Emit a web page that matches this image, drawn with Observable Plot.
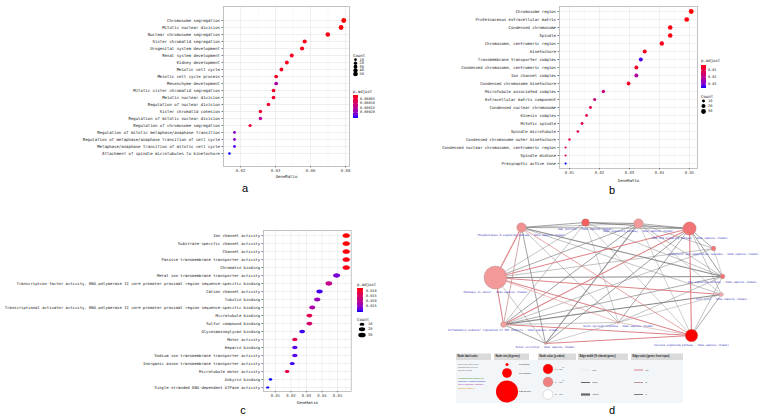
<!DOCTYPE html>
<html><head><meta charset="utf-8">
<script src="https://cdn.jsdelivr.net/npm/d3@7"></script>
<script src="https://cdn.jsdelivr.net/npm/@observablehq/plot@0.6"></script>
<style>
body{margin:0;background:#fff;width:763px;height:416px;overflow:hidden;position:relative}
.panel{position:absolute}
.panel svg{overflow:visible}
</style></head><body>
<div id="pa" class="panel" style="left:0;top:0"></div>
<div id="pb" class="panel" style="left:380px;top:0"></div>
<div id="pc" class="panel" style="left:0;top:220px"></div>
<div id="pd" class="panel" style="left:440px;top:210px"></div>
<svg id="overlay" width="763" height="416" style="position:absolute;left:0;top:0;pointer-events:none"></svg>
<script>
// ---------- Panel a : GO biological process ----------
const aTerms = ["Chromosome segregation","Mitotic nuclear division","Nuclear chromosome segregation","Sister chromatid segregation","Urogenital system development","Renal system development","Kidney development","Meiotic cell cycle","Meiotic cell cycle process","Mesenchyme development","Mitotic sister chromatid segregation","Meiotic nuclear division","Regulation of nuclear division","Sister chromatid cohesion","Regulation of mitotic nuclear division","Regulation of chromosome segregation","Regulation of mitotic metaphase/anaphase transition","Regulation of metaphase/anaphase transition of cell cycle","Metaphase/anaphase transition of mitotic cell cycle","Attachment of spindle microtubules to kinetochore"];
const aRatio = [0.0790,0.0775,0.0699,0.0567,0.0552,0.0493,0.0465,0.0434,0.0404,0.0404,0.0389,0.0389,0.0360,0.0314,0.0314,0.0255,0.0166,0.0166,0.0166,0.0137];
const aCount = [52,51,46,37,36,32,31,29,27,27,26,26,24,21,21,17,11,11,11,9];
const aPadj = [0.00001,0.000012,0.00002,0.00002,0.000025,0.00003,0.00003,0.00003,0.000035,0.00017,0.000035,0.00004,0.00004,0.00004,0.00015,0.000045,0.00021,0.00021,0.00024,0.00026];
const aTicks = [0.02,0.04,0.06,0.08];
const aMinor = [0.01,0.03,0.05,0.07];
const aCountLegend = [10,20,30,40,50];
const aPLegend = [0.00005,0.00010,0.00015,0.00020];

// ---------- Panel b : GO cellular component ----------
const bTerms = ["Chromosome region","Proteinaceous extracellular matrix","Condensed chromosome","Spindle","Chromosome, centromeric region","Kinetochore","Transmembrane transporter complex","Condensed chromosome, centromeric region","Ion channel complex","Condensed chromosome kinetochore","Microtubule associated complex","Extracellular matrix component","Condensed nuclear chromosome","Kinesin complex","Mitotic spindle","Spindle microtubule","Condensed chromosome outer kinetochore","Condensed nuclear chromosome, centromeric region","Spindle midzone","Presynaptic active zone"];
const bRatio = [0.0506,0.0491,0.0436,0.0436,0.0408,0.0351,0.0338,0.0323,0.0323,0.0297,0.0213,0.0184,0.0170,0.0157,0.0142,0.0128,0.0100,0.0087,0.0087,0.0087];
const bCount = [30,29,26,26,24,21,20,19,19,18,13,11,10,9,9,8,6,5,5,5];
const bPadj = [0.002,0.0025,0.003,0.003,0.0035,0.004,0.034,0.0045,0.022,0.005,0.016,0.017,0.010,0.009,0.011,0.011,0.009,0.010,0.012,0.036];
const bTicks = [0.01,0.02,0.03,0.04,0.05];
const bMinor = [0.015,0.025,0.035,0.045];
const bCountLegend = [10,20,30];
const bPLegend = [0.01,0.02,0.03];

// ---------- Panel c : GO molecular function ----------
const cTerms = ["Ion channel activity","Substrate-specific channel activity","Channel activity","Passive transmembrane transporter activity","Chromatin binding","Metal ion transmembrane transporter activity","Transcription factor activity, RNA polymerase II core promoter proximal region sequence-specific binding","Cation channel activity","Tubulin binding","Transcriptional activator activity, RNA polymerase II core promoter proximal region sequence-specific binding","Microtubule binding","Sulfur compound binding","Glycosaminoglycan binding","Motor activity","Heparin binding","Sodium ion transmembrane transporter activity","Inorganic anion transmembrane transporter activity","Microtubule motor activity","Ankyrin binding","Single-stranded DNA-dependent ATPase activity"];
const cRatio = [0.0556,0.0556,0.0556,0.0556,0.0556,0.0494,0.0444,0.0384,0.0369,0.0337,0.0319,0.0319,0.0272,0.0225,0.0225,0.0225,0.0208,0.0175,0.0068,0.0050];
const cCount = [30,30,30,30,30,27,24,21,20,18,17,17,15,12,12,12,11,9,4,3];
const cPadj = [0.007,0.0072,0.0075,0.0078,0.008,0.027,0.019,0.030,0.024,0.022,0.013,0.016,0.030,0.013,0.029,0.029,0.030,0.012,0.031,0.031];
const cTicks = [0.01,0.02,0.03,0.04,0.05];
const cMinor = [0.005,0.015,0.025,0.035,0.045,0.055];
const cCountLegend = [10,20,30];
const cPLegend = [0.010,0.015,0.020,0.025];

// ---------- Panel d : pathway network ----------
const dNames = ["Phospholipase D signaling pathway - Homo sapiens (human)","Gap junction - Homo sapiens (human)","Rap1 signaling pathway - Homo sapiens (human)","cGMP-PKG signaling pathway - Homo sapiens (human)","Complement and coagulation cascades - Homo sapiens (human)","Ras signaling pathway - Homo sapiens (human)","Cell cycle - Homo sapiens (human)","Calcium signaling pathway - Homo sapiens (human)","Acute myeloid leukemia - Homo sapiens (human)","Renin secretion - Homo sapiens (human)","Inflammatory mediator regulation of TRP channels - Homo sapiens (human)","Pathways in cancer - Homo sapiens (human)"];
const dX = [521,585,638,689,713,722,721,691,618,545,503,495];
const dY = [227,222,223,228,248,276,294,335,322,343,324,277];
const dGenes = [92,59,92,181,23,23,15,156,4,5,33,530];
const dLogP = [-2.6,-4.6,-2.4,-3.6,-3.4,-3.5,-2.0,-9,-2.5,-2.5,-2.3,-2.4];
const eSrc    = [11,11,11,11,11,11,11,11,11,11,11, 0, 0, 0, 0, 0, 0, 0, 0, 0, 1, 1, 1, 1, 1, 1, 2, 2, 2, 2, 2, 2, 2, 3, 3, 3, 3, 3, 3, 3, 4, 4, 5, 5, 5, 6, 6, 6, 7, 7, 7, 8, 8, 9];
const eTgt    = [ 0, 1, 3, 2, 5, 6, 7, 8,10, 9, 4, 1, 2, 3,10, 9, 8, 7, 5, 6, 2, 3, 8, 5,10, 7, 3, 4, 9,10, 7, 5, 6, 7,10, 4, 5, 6, 8, 9,10, 5,10, 8, 7,10, 8, 7,10, 9, 8,10, 9,10];
const eShared = [50,15,40,25,40,40,40,15,45,15,15,30,15,25,30,30,15,25,40,15,30,40,10,15,15,10,25,15,40,30,10,15,10,45,40,25,30,15,25,30,15,10,25,15,15,40,10,25,40,45,15,15,10,30];
const eInput  = [10, 0,10, 0, 0,10,10,10,10, 0, 0, 0, 0, 0, 5, 0, 0,10, 0, 0, 0, 0, 0, 0, 0, 0, 0, 0, 0, 0, 0, 0, 0,10,10, 0, 0, 0, 0, 0, 0, 0, 0, 0, 0, 0, 0, 0,10,10, 5, 0, 0, 0];

const RED_BLUE = {type:"linear", range:["#ff0000","#0000ff"], interpolate:"lab"};
const FONT = "'DejaVu Sans Mono','Liberation Mono',monospace";
const SANS = "'Liberation Sans',Arial,sans-serif";

function ellipseSymbol(k){
  return {draw(ctx, size){
    const rx = Math.sqrt(size/Math.PI), ry = rx*k, c = 0.5523;
    ctx.moveTo(rx,0);
    ctx.bezierCurveTo(rx,c*ry,c*rx,ry,0,ry);
    ctx.bezierCurveTo(-c*rx,ry,-rx,c*ry,-rx,0);
    ctx.bezierCurveTo(-rx,-c*ry,-c*rx,-ry,0,-ry);
    ctx.bezierCurveTo(c*rx,-ry,rx,-c*ry,rx,0);
    ctx.closePath();
  }};
}

function dotPanel(el, o){
  const data = o.terms.map((t,i)=>({term:t, ratio:o.ratio[i], count:o.count[i], padj:o.padj[i]}));
  const chart = Plot.plot({
    width:o.width, height:o.height, marginTop:o.mt, marginBottom:o.mb, marginLeft:o.ml, marginRight:o.mr,
    style:{fontFamily:FONT, fontSize:o.fs+"px", background:"none", color:"#222", overflow:"visible"},
    x:{domain:o.xDomain, label:null},
    y:{type:"point", domain:o.terms, padding:o.pad, label:null},
    r:{type:"sqrt", domain:o.rDomain, range:o.rRange},
    color:{...RED_BLUE, domain:o.cDomain},
    marks:[
      Plot.gridX(o.minor, {stroke:"#f2f2f2", strokeOpacity:1, strokeWidth:0.5}),
      Plot.gridX(o.ticks, {stroke:"#e4e4e4", strokeOpacity:1, strokeWidth:0.6}),
      Plot.gridY({stroke:"#e4e4e4", strokeOpacity:1, strokeWidth:0.6}),
      Plot.frame({stroke:"#b5b5b5", strokeWidth:0.8}),
      Plot.dot(data, {x:"ratio", y:"term", r:"count", fill:"padj", symbol:o.symbol || "circle"}),
      Plot.axisX(o.ticks, {tickSize:1.5, tickPadding:1, tickFormat:d=>d.toFixed(2), fontSize:o.fs, color:"#444", strokeWidth:0.6, label:null}),
      Plot.axisY({tickSize:1.5, tickPadding:2, fontSize:o.fs, color:"#222", strokeWidth:0.6, label:null}),
      Plot.text(["GeneRatio"], {frameAnchor:"bottom", dy:o.labelDy, text:d=>d, fontSize:o.fs, fill:"#222", lineAnchor:"middle"})
    ]
  });
  document.getElementById(el).appendChild(chart);
  return chart;
}

const chA = dotPanel("pa", {terms:aTerms, ratio:aRatio, count:aCount, padj:aPadj, width:352, height:195, mt:6, mb:29, ml:223, mr:3,
  fs:4, pad:0.63, xDomain:[0.0103,0.0823], ticks:aTicks, minor:aMinor, rDomain:[9,52], rRange:[1.3,2.4], cDomain:[0.00001,0.00026], labelDy:10});
const chB = dotPanel("pb", {terms:bTerms, ratio:bRatio, count:bCount, padj:bPadj, width:320, height:195, mt:6, mb:27, ml:179, mr:3,
  fs:3.95, pad:0.56, xDomain:[0.00667,0.0527], ticks:bTicks, minor:bMinor, rDomain:[5,30], rRange:[1.1,2.4], cDomain:[0.002,0.036], labelDy:12});
const cEll = ellipseSymbol(0.63);
const chC = dotPanel("pc", {terms:cTerms, ratio:cRatio, count:cCount, padj:cPadj, width:353, height:196, mt:10, mb:25, ml:263, mr:2.3,
  fs:3.9, pad:0.56, xDomain:[0.0023,0.0588], ticks:cTicks, minor:cMinor, rDomain:[3,30], rRange:[1.7,3.7], cDomain:[0.007,0.031], symbol:cEll, labelDy:11});

// ---------- network ----------
const nodes = dNames.map((n,i)=>({name:n, x:dX[i], y:dY[i], genes:dGenes[i], logp:dLogP[i]}));
const edges = eSrc.map((s,i)=>({s, t:eTgt[i], shared:eShared[i], input:eInput[i]}));
const wScale = d3.scaleLinear().domain([1,100]).range([0.25,2.2]);
const nodeR = d3.scaleSqrt().domain([0,535]).range([0,11.6]);
const linkOpts = (stroke, op)=>({x1:e=>dX[e.s], y1:e=>dY[e.s], x2:e=>dX[e.t], y2:e=>dY[e.t], stroke, strokeOpacity:op, strokeWidth:e=>wScale(e.shared)});
const chD = Plot.plot({
  width:323, height:145, margin:0,
  style:{fontFamily:FONT, background:"none", overflow:"visible"},
  x:{domain:[440,763], range:[0,323], axis:null},
  y:{domain:[210,355], range:[0,145], axis:null},
  r:{type:"sqrt", domain:[0,535], range:[0,11.6]},
  color:{type:"linear", domain:[-9,-3,0], range:["#ff0000","#f08080","#ffffff"]},
  marks:[
    Plot.link(edges.filter(e=>e.input===0), linkOpts("#6f6f6f",0.8)),
    Plot.link(edges.filter(e=>e.input===5), linkOpts("#c08a8c",0.9)),
    Plot.link(edges.filter(e=>e.input===10), linkOpts("#d9777b",0.9)),
    Plot.dot(nodes, {x:"x", y:"y", r:"genes", fill:"logp", stroke:"#9a9a9a", strokeWidth:0.3}),
    Plot.text(nodes, {x:"x", y:d=>d.y + nodeR(d.genes) + 2, text:"name", fontSize:2.6, fill:"#2f2fc0", lineAnchor:"top"})
  ]
});
document.getElementById("pd").appendChild(chD);

// ---------- legends & letters ----------
const ov = d3.select("#overlay");
const defs = ov.append("defs");
function gradient(id){
  const g = defs.append("linearGradient").attr("id",id).attr("x1",0).attr("x2",0).attr("y1",0).attr("y2",1);
  const ip = d3.interpolateLab("#ff0000","#0000ff");
  d3.range(0,1.0001,0.1).forEach(t=>g.append("stop").attr("offset",t).attr("stop-color",ip(t)));
}
gradient("gRB");
function txt(x,y,s,fs,extra={}){
  const t = ov.append("text").attr("x",x).attr("y",y).text(s)
    .attr("font-size",fs).attr("font-family",extra.family||FONT).attr("fill",extra.fill||"#222")
    .attr("dominant-baseline",extra.baseline||"middle").attr("text-anchor",extra.anchor||"start");
  if(extra.weight) t.attr("font-weight",extra.weight);
  return t;
}
function colorbar(x,y,w,h,domain,ticks,fmt,fs,labelX){
  ov.append("rect").attr("x",x).attr("y",y).attr("width",w).attr("height",h).attr("fill","url(#gRB)");
  const s = d3.scaleLinear().domain(domain).range([y,y+h]);
  ticks.forEach(v=>{
    ov.append("line").attr("x1",x).attr("x2",x+1).attr("y1",s(v)).attr("y2",s(v)).attr("stroke","#fff").attr("stroke-width",0.4);
    ov.append("line").attr("x1",x+w-1).attr("x2",x+w).attr("y1",s(v)).attr("y2",s(v)).attr("stroke","#fff").attr("stroke-width",0.4);
    txt(labelX,s(v),fmt(v),fs);
  });
}
function countLegend(vals, ys, dotX, labelX, rS, fs, k){
  vals.forEach((v,i)=>{
    const r = rS.apply(v);
    if(k) ov.append("ellipse").attr("cx",dotX).attr("cy",ys[i]).attr("rx",r).attr("ry",r*k).attr("fill","#000");
    else ov.append("circle").attr("cx",dotX).attr("cy",ys[i]).attr("r",r).attr("fill","#000");
    txt(labelX,ys[i],String(v),fs);
  });
}
// a legend
txt(353,55.5,"Count",4);
countLegend(aCountLegend,[59.7,63.3,66.8,70.3,74],355.5,359.5,chA.scale("r"),3.6);
txt(353,92.2,"p.adjust",4);
colorbar(353,95,5,23,[0.00001,0.00026],aPLegend,d3.format(".5f"),3.5,360);
// b legend
txt(701,60.5,"p.adjust",4);
colorbar(701,65,5,23,[0.002,0.036],bPLegend,d3.format(".2f"),3.5,708);
txt(701,97,"Count",4);
countLegend(bCountLegend,[101,106,111.5],703.5,708,chB.scale("r"),3.6);
// c legend
txt(357,285,"p.adjust",4);
colorbar(357,288,6,24,[0.007,0.031],cPLegend,d3.format(".3f"),3.5,366);
txt(357,320,"Count",4);
countLegend(cCountLegend,[324.3,329.3,335],362,368,chC.scale("r"),3.6,0.63);

// d legend table
const hdrY = 353.5, hdrH = 6.5;
const cols = [[456,491,"Node label color"],[494,529,"Node size (# genes)"],[538,576,"Node color (p value)"],[578,628,"Edge width (% shared genes)"],[631,683,"Edge color (genes from input)"]];
ov.append("rect").attr("x",456).attr("y",hdrY+hdrH).attr("width",227).attr("height",43).attr("fill","#f3f6f9");
cols.forEach(([x0,x1,s])=>{
  ov.append("rect").attr("x",x0).attr("y",hdrY).attr("width",x1-x0).attr("height",hdrH).attr("fill","#dadada");
  txt(x0+1.5,hdrY+hdrH/2,s,2.6,{weight:"bold",family:SANS});
});
["The node label color","denotes the type of","the gene sets"].forEach((s,i)=>txt(458,364+i*3,s,2.3,{fill:"#666",family:SANS}));
[["neighborhood-based set","#2e8b2e"],["manually curated pathway","#3333cc"],["Gene Ontology category","#993399"],["protein complex","#e08a00"]]
  .forEach(([s,c],i)=>txt(458,378+i*3.4,s,2.4,{fill:c,family:SANS}));
[[10,364.5],[104,373],[535,391.5]].forEach(([g,y])=>{
  ov.append("circle").attr("cx",507).attr("cy",y).attr("r",Math.max(0.9,nodeR(g)*0.95)).attr("fill","#ff0000");
  txt(519,y,g+" genes",2.5,{family:SANS});
});
[["#ff0000","p < 10","-5",369],["#f08080","p = 10","-2",382],["#ffffff","p = 1.0","",394.5]].forEach(([c,s,sup,y])=>{
  ov.append("circle").attr("cx",548).attr("cy",y).attr("r",5).attr("fill",c).attr("stroke","#999").attr("stroke-width",0.3);
  const t = txt(555,y,s,2.5,{family:SANS});
  if(sup) t.append("tspan").attr("dy",-1).attr("font-size",1.8).text(sup);
});
[["#cfcfcf",0.4,"1%",370],["#666",1.0,"50%",382.5],["#666",2.2,"100%",394.5]].forEach(([c,w,s,y])=>{
  ov.append("line").attr("x1",581).attr("x2",590).attr("y1",y).attr("y2",y).attr("stroke",c).attr("stroke-width",w);
  txt(592.5,y,s,2.5,{family:SANS});
});
[["#d9777b","10",370],["#c08a8c","5",382.5],["#6f6f6f","0",394.5]].forEach(([c,s,y])=>{
  ov.append("line").attr("x1",634).attr("x2",643).attr("y1",y).attr("y2",y).attr("stroke",c).attr("stroke-width",0.9);
  txt(645.5,y,s,2.5,{family:SANS});
});

// panel letters
[["a",245,192],["b",612,194],["c",243,414],["d",612,413.5]].forEach(([s,x,y])=>
  txt(x,y,s,11,{anchor:"middle",baseline:"auto",fill:"#000",family:SANS}));
</script>
</body></html>
